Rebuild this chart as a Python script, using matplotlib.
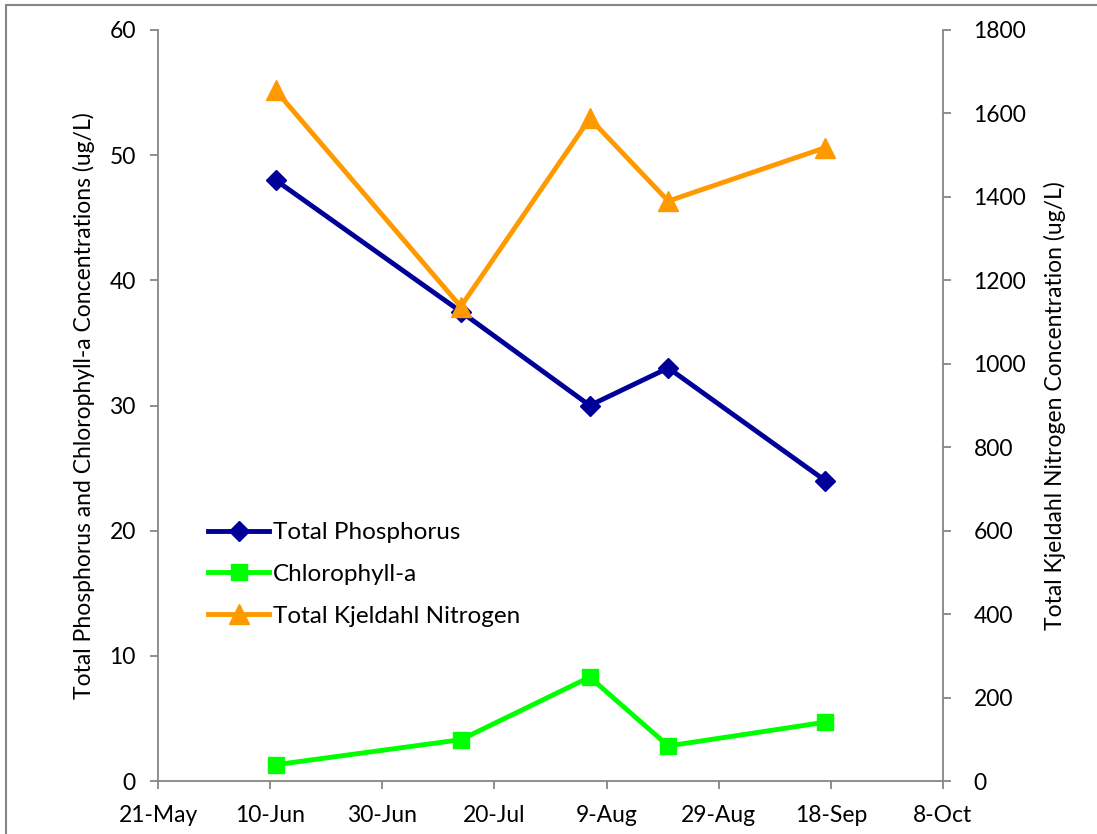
import pandas as pd
import matplotlib
matplotlib.use("Agg")
import matplotlib.pyplot as plt
import matplotlib.dates as mdates
from matplotlib.patches import Rectangle

plt.rcParams['font.family'] = ['Lato', 'DejaVu Sans']

# Sampling data
dates = pd.to_datetime(["2013-06-11", "2013-07-14", "2013-08-06", "2013-08-20", "2013-09-17"])
total_phosphorus = [48, 37.5, 30, 33, 24]
chlorophyll_a = [1.3, 3.3, 8.3, 2.8, 4.7]
tkn = [1655, 1137, 1588, 1390, 1518]

x_start = pd.Timestamp("2013-05-21")
x_end = pd.Timestamp("2013-10-08")
x_ticks = pd.date_range(x_start, x_end, freq="20D")

navy = "#000099"
lime = "#00FF00"
orange = "#FF9900"
grey = "#868686"

fig = plt.figure(figsize=(10.97, 8.34), dpi=100)
ax = fig.add_axes([158 / 1097, 1 - 781 / 834, (943 - 158) / 1097, (781 - 30) / 834])
ax2 = ax.twinx()

l1, = ax.plot(dates, total_phosphorus, color=navy, lw=3.5, marker="D", ms=10,
              label="Total Phosphorus")
l2, = ax.plot(dates, chlorophyll_a, color=lime, lw=3.5, marker="s", ms=12,
              label="Chlorophyll-a")
l3, = ax2.plot(dates, tkn, color=orange, lw=3.5, marker="^", ms=14,
               label="Total Kjeldahl Nitrogen")

ax.set_xlim(x_start, x_end)
ax.set_ylim(0, 60)
ax2.set_ylim(0, 1800)
ax.set_yticks(range(0, 61, 10))
ax2.set_yticks(range(0, 1801, 200))
ax.set_xticks(x_ticks)
ax.xaxis.set_major_formatter(mdates.DateFormatter("%-d-%b"))

for a in (ax, ax2):
    a.spines["top"].set_visible(False)
    for s in ("left", "right", "bottom"):
        a.spines[s].set_color(grey)
        a.spines[s].set_linewidth(1.3)
    a.tick_params(colors=grey, labelcolor="black", labelsize=16.5, length=6,
                  width=1.3, direction="out")
ax.spines["right"].set_visible(False)
ax2.spines["left"].set_visible(False)
ax2.spines["bottom"].set_visible(False)
ax.tick_params(axis="x", pad=11)
ax.tick_params(axis="y", pad=10)
ax2.tick_params(axis="y", pad=16)

ax.set_ylabel("Total Phosphorus and Chlorophyll-a Concentrations (ug/L)", fontsize=16.5)
ax2.set_ylabel("Total Kjeldahl Nitrogen Concentration (ug/L)", fontsize=16.5)
ax.yaxis.set_label_coords(-0.08, 0.5)
ax2.yaxis.set_label_coords(1.129, 0.5)

ax2.legend(handles=[l1, l2, l3], loc="upper left", bbox_to_anchor=(196 / 1097, 1 - 510 / 834),
           bbox_transform=fig.transFigure, frameon=False, fontsize=17.5,
           handlelength=2.5, handletextpad=0.15, labelspacing=0.85, borderpad=0)

# outer chart frame
fig.patches.append(Rectangle((6 / 1097, -0.1), 1.2, 1 - 5 / 834 + 0.1, transform=fig.transFigure,
                             fill=False, edgecolor=grey, lw=1.5))

fig.savefig("out.png", dpi=100)
